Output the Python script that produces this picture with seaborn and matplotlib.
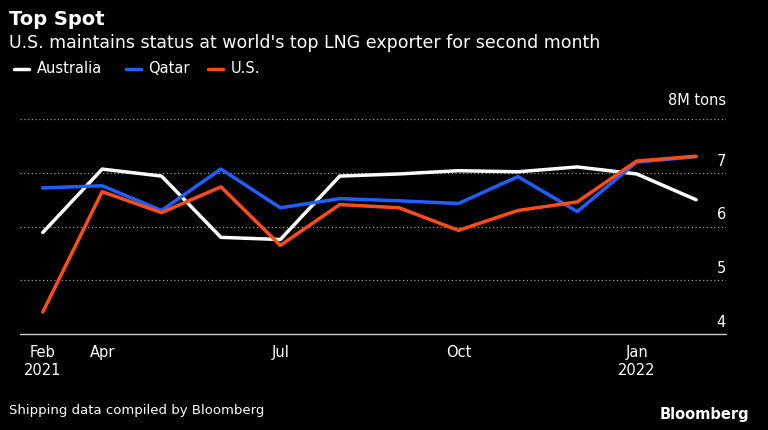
import matplotlib
matplotlib.use("Agg")
import matplotlib.pyplot as plt
import seaborn as sns
import pandas as pd

idx = list(range(12))
australia = [5.89, 7.07, 6.94, 5.80, 5.76, 6.94, 6.98, 7.04, 7.02, 7.11, 6.98, 6.50]
qatar = [6.72, 6.76, 6.30, 7.07, 6.35, 6.52, 6.48, 6.43, 6.93, 6.28, 7.20, 7.30]
us = [4.41, 6.65, 6.26, 6.74, 5.65, 6.41, 6.35, 5.93, 6.30, 6.46, 7.22, 7.31]
tick_pos = [0, 1, 4, 7, 10]
tick_labels = ["Feb\n2021", "Apr", "Jul", "Oct", "Jan\n2022"]
y_labels = [4, 5, 6, 7]
series = {"Australia": australia, "Qatar": qatar, "U.S.": us}
colors = {"Australia": "#ffffff", "Qatar": "#1f5eff", "U.S.": "#ff4a1a"}

df = pd.DataFrame([(i, k, v) for k, vals in series.items() for i, v in zip(idx, vals)],
                  columns=["x", "country", "val"])

sns.set_style("dark")
plt.rcParams['font.family'] = ['DejaVu Sans']
fig = plt.figure(figsize=(7.68, 4.30), dpi=100, facecolor="black")
ax = fig.add_axes([0.0, 0.223, 0.945, 0.5])
ax.set_facecolor("black")
sns.lineplot(data=df, x="x", y="val", hue="country", palette=colors, linewidth=2.5,
             ax=ax, legend=False)
ax.set_ylim(4, 8)
ax.set_xlim(-0.72, 11.5)
x0 = 0.0275
for y in [5, 6, 7, 8]:
    ax.axhline(y, xmin=x0, color="#999999", linestyle=(0, (1, 2)), linewidth=0.9, zorder=0)
ax.axhline(4, xmin=x0, color="#cccccc", linewidth=1, zorder=0, clip_on=False)
ax.set_yticks([])
for y in y_labels:
    ax.text(0.994, y + 0.08, str(y), transform=ax.get_yaxis_transform(), color="white",
            fontsize=10.5, ha="center", va="bottom")
ax.set_xticks(tick_pos)
ax.set_xticklabels(tick_labels)
ax.tick_params(colors="white", labelsize=10.5)
ax.tick_params(axis="x", length=5, color="#cccccc", pad=3)
ax.set_xlabel(""); ax.set_ylabel("")
for s in ax.spines.values():
    s.set_visible(False)
ax.grid(False)
ax.text(1.0, 8.2, "8M tons", transform=ax.get_yaxis_transform(), color="white",
        fontsize=10.5, ha="right", va="bottom")

fig.text(0.012, 0.955, "Top Spot", color="white", fontsize=14, fontweight="bold", va="center")
fig.text(0.012, 0.9, "U.S. maintains status at world's top LNG exporter for second month",
         color="white", fontsize=12.5, va="center")
lx = 0.018
for name in series:
    fig.add_artist(plt.Line2D([lx, lx + 0.02], [0.84, 0.84], color=colors[name], lw=2.5,
                              transform=fig.transFigure))
    fig.text(lx + 0.03, 0.84, name, color="white", fontsize=10.5, va="center")
    lx += 0.03 + len(name) * 0.0095 + 0.03
fig.text(0.012, 0.045, "Shipping data compiled by Bloomberg", color="white", fontsize=9.5, va="center")
fig.text(0.975, 0.035, "Bloomberg", color="white", fontsize=10.5, fontweight="bold",
         ha="right", va="center")
fig.savefig("out.png", dpi=100, facecolor="black")
